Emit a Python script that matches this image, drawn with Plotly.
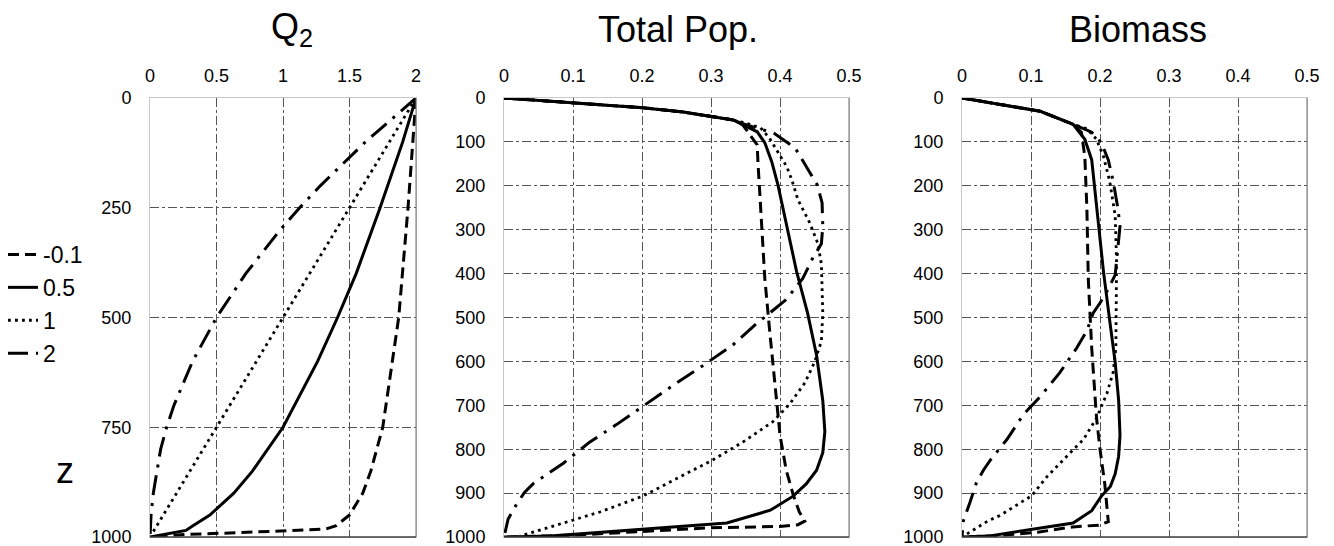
import plotly.graph_objects as go

W, H = 1334, 546

# ---------------- data ----------------
series_names = ["-0.1", "0.5", "1", "2"]

# Panel 1: Q2
q2_z_m01 = [0, 100, 250, 500, 750, 850, 900, 950, 974, 982, 986, 990, 994, 1000]
q2_v_m01 = [2.0, 1.975, 1.94, 1.87, 1.75, 1.66, 1.6, 1.5, 1.4, 1.32, 1.05, 0.68, 0.28, 0.0]
q2_z_05 = [0, 50, 100, 250, 400, 500, 600, 750, 850, 900, 950, 975, 985, 1000]
q2_v_05 = [2.0, 1.95, 1.9, 1.73, 1.55, 1.41, 1.26, 1.0, 0.77, 0.63, 0.45, 0.32, 0.27, 0.0]
q2_z_1 = [0, 250, 500, 750, 990]
q2_v_1 = [2.0, 1.5, 1.0, 0.5, 0.02]
q2_z_2 = [0, 100, 200, 250, 300, 400, 500, 600, 700, 750, 800, 850, 900, 950, 1000]
q2_v_2 = [2.0, 1.62, 1.28, 1.125, 0.98, 0.72, 0.5, 0.32, 0.18, 0.125, 0.08, 0.05, 0.025, 0.008, 0.0]

# Panel 2: Total Pop.
tp_z_m01 = [0, 11, 22, 32, 42, 50, 61, 84, 107, 145, 220, 411, 530, 649, 768, 848, 903, 943, 964, 972, 976, 979, 988, 996, 1000]
tp_v_m01 = [0, 0.1, 0.2, 0.26, 0.3, 0.332, 0.346, 0.357, 0.367, 0.368, 0.371, 0.378, 0.385, 0.392, 0.4, 0.409, 0.419, 0.428, 0.436, 0.426, 0.4, 0.3, 0.2, 0.1, 0]
tp_z_05 = [0, 11, 22, 32, 42, 50, 61, 77, 102, 145, 198, 243, 395, 490, 586, 689, 760, 808, 848, 879, 907, 939, 968, 998, 1000]
tp_v_05 = [0, 0.1, 0.2, 0.26, 0.3, 0.332, 0.346, 0.367, 0.378, 0.388, 0.397, 0.403, 0.424, 0.44, 0.453, 0.462, 0.465, 0.462, 0.453, 0.438, 0.419, 0.386, 0.323, 0.067, 0]
tp_z_1 = [0, 11, 22, 32, 42, 50, 57, 68, 92, 130, 157, 186, 232, 284, 332, 379, 490, 554, 602, 649, 697, 737, 784, 824, 863, 907, 943, 964, 998]
tp_v_1 = [0, 0.1, 0.2, 0.26, 0.3, 0.332, 0.35, 0.372, 0.385, 0.4, 0.41, 0.417, 0.426, 0.443, 0.455, 0.46, 0.462, 0.46, 0.45, 0.436, 0.414, 0.39, 0.346, 0.303, 0.255, 0.201, 0.139, 0.096, 0.023]
tp_z_2 = [0, 11, 22, 32, 42, 50, 58, 67, 80, 114, 143, 171, 198, 239, 292, 332, 363, 411, 459, 490, 514, 562, 610, 649, 697, 744, 784, 832, 879, 898, 923, 959, 1000]
tp_v_2 = [0, 0.1, 0.2, 0.26, 0.3, 0.332, 0.345, 0.365, 0.391, 0.422, 0.433, 0.443, 0.454, 0.461, 0.462, 0.46, 0.448, 0.433, 0.409, 0.385, 0.366, 0.332, 0.288, 0.25, 0.206, 0.163, 0.124, 0.086, 0.042, 0.03, 0.019, 0.006, 0]

# Panel 3: Biomass
bm_z_m01 = [0, 13, 30, 60, 78, 133, 252, 411, 570, 729, 800, 880, 965, 973, 977, 989, 997, 1000]
bm_v_m01 = [0, 0.05, 0.113, 0.161, 0.173, 0.178, 0.181, 0.183, 0.188, 0.195, 0.2, 0.207, 0.212, 0.198, 0.16, 0.11, 0.05, 0]
bm_z_05 = [0, 13, 30, 60, 94, 141, 252, 395, 506, 602, 689, 768, 816, 856, 885, 906, 940, 968, 998, 1000]
bm_v_05 = [0, 0.05, 0.113, 0.161, 0.178, 0.188, 0.195, 0.205, 0.214, 0.222, 0.227, 0.229, 0.227, 0.222, 0.215, 0.2025, 0.188, 0.161, 0.038, 0]
bm_z_1 = [0, 13, 30, 60, 70, 94, 133, 189, 268, 371, 490, 570, 625, 673, 729, 778, 816, 863, 906, 951, 963, 998]
bm_v_1 = [0, 0.05, 0.113, 0.161, 0.181, 0.195, 0.205, 0.214, 0.222, 0.224, 0.224, 0.223, 0.219, 0.21, 0.195, 0.176, 0.152, 0.123, 0.101, 0.055, 0.038, 0.002]
bm_z_2 = [0, 13, 30, 60, 78, 102, 141, 189, 252, 292, 348, 403, 435, 467, 490, 530, 570, 625, 681, 721, 778, 825, 848, 876, 921, 963, 1000]
bm_v_2 = [0, 0.05, 0.113, 0.161, 0.188, 0.202, 0.212, 0.219, 0.226, 0.229, 0.226, 0.222, 0.212, 0.2, 0.19, 0.181, 0.166, 0.142, 0.113, 0.089, 0.065, 0.041, 0.031, 0.021, 0.0116, 0.002, 0]

panel_titles = ["Q<sub>2</sub>", "Total Pop.", "Biomass"]
q2_ticks = [0, 0.5, 1, 1.5, 2]
q2_ticktext = ["0", "0.5", "1", "1.5", "2"]
pop_ticks = [0, 0.1, 0.2, 0.3, 0.4, 0.5]
pop_ticktext = ["0", "0.1", "0.2", "0.3", "0.4", "0.5"]
q2_zticks = [0, 250, 500, 750, 1000]
pop_zticks = [0, 100, 200, 300, 400, 500, 600, 700, 800, 900, 1000]

# ---------------- styling ----------------
FONT = "Liberation Sans, Arial, sans-serif"
styles = [
    dict(width=3, dash="11px,6px"),
    dict(width=3, dash="solid"),
    dict(width=2.8, dash="2.8px,4.2px"),
    dict(width=3, dash="20px,8px,3px,8px"),
]

panels = [
    dict(data=[(q2_v_m01, q2_z_m01), (q2_v_05, q2_z_05), (q2_v_1, q2_z_1), (q2_v_2, q2_z_2)],
         px=(150, 416), xr=[0, 2], xt=q2_ticks, xtt=q2_ticktext, zt=q2_zticks, tx=292),
    dict(data=[(tp_v_m01, tp_z_m01), (tp_v_05, tp_z_05), (tp_v_1, tp_z_1), (tp_v_2, tp_z_2)],
         px=(504, 849), xr=[0, 0.5], xt=pop_ticks, xtt=pop_ticktext, zt=pop_zticks, tx=678),
    dict(data=[(bm_v_m01, bm_z_m01), (bm_v_05, bm_z_05), (bm_v_1, bm_z_1), (bm_v_2, bm_z_2)],
         px=(962, 1307), xr=[0, 0.5], xt=pop_ticks, xtt=pop_ticktext, zt=pop_zticks, tx=1138),
]

TOP, BOT = 98, 537
ydom = [1 - BOT / H, 1 - TOP / H]

fig = go.Figure()
layout = dict(
    width=W, height=H, margin=dict(l=0, r=0, t=0, b=0, autoexpand=False),
    paper_bgcolor="white", plot_bgcolor="white",
    font=dict(family=FONT, color="black"),
    showlegend=True,
    legend=dict(x=3 / W, y=1 - 233 / H, xanchor="left", yanchor="top",
                font=dict(size=23, family=FONT, color="black"),
                bgcolor="rgba(0,0,0,0)", itemwidth=30, tracegroupgap=0),
)

shapes = []
annotations = []
for i, p in enumerate(panels):
    k = "" if i == 0 else str(i + 1)
    xa, ya = "x" + k, "y" + k
    for j, (vals, zs) in enumerate(p["data"]):
        fig.add_trace(go.Scatter(
            x=vals, y=zs, xaxis=xa, yaxis=ya, mode="lines",
            name=series_names[j], showlegend=(i == 0),
            line=dict(color="black", **styles[j]),
            hoverinfo="skip"))
    layout["xaxis" + k] = dict(
        domain=[p["px"][0] / W, p["px"][1] / W], range=p["xr"], side="top",
        anchor=ya, tickvals=p["xt"], ticktext=p["xtt"], showgrid=True,
        gridcolor="#555555", griddash="dashdot", gridwidth=1,
        showline=True, linecolor="#c8c8c8", linewidth=1, mirror=True,
        zeroline=False, ticks="", ticklabelstandoff=8, automargin=False,
        ticklabeloverflow="allow",
        tickfont=dict(size=18, family=FONT, color="black"), fixedrange=True)
    layout["yaxis" + k] = dict(
        domain=ydom, range=[1000, 0], anchor=xa, tickvals=p["zt"],
        showgrid=True, gridcolor="#555555", griddash="dashdot", gridwidth=1,
        showline=True, linecolor="#c8c8c8", linewidth=1, mirror=True,
        zeroline=False, ticks="", ticklabelstandoff=14, automargin=False,
        ticklabeloverflow="allow",
        tickfont=dict(size=18, family=FONT, color="black"), fixedrange=True)
    # darker right and bottom frame
    shapes.append(dict(type="line", xref=xa + " domain", yref=ya + " domain",
                       x0=1, x1=1, y0=0, y1=1, line=dict(color="#707070", width=1)))
    shapes.append(dict(type="line", xref=xa + " domain", yref=ya + " domain",
                       x0=0, x1=1, y0=0, y1=0, line=dict(color="#404040", width=1.5)))
    annotations.append(dict(text=panel_titles[i], x=p["tx"] / W, y=1 - 29 / H,
                            xref="paper", yref="paper", xanchor="center", yanchor="middle",
                            showarrow=False, font=dict(size=36, family=FONT, color="black")))

annotations.append(dict(text="z", x=65 / W, y=1 - 470 / H, xref="paper", yref="paper",
                        xanchor="center", yanchor="middle", showarrow=False,
                        font=dict(size=36, family=FONT, color="black")))

layout["shapes"] = shapes
layout["annotations"] = annotations
fig.update_layout(**layout)
fig.write_html(
    "out.html",
    config={"displayModeBar": False},
    post_script="document.body.style.margin='0';document.body.style.overflow='hidden';",
)
